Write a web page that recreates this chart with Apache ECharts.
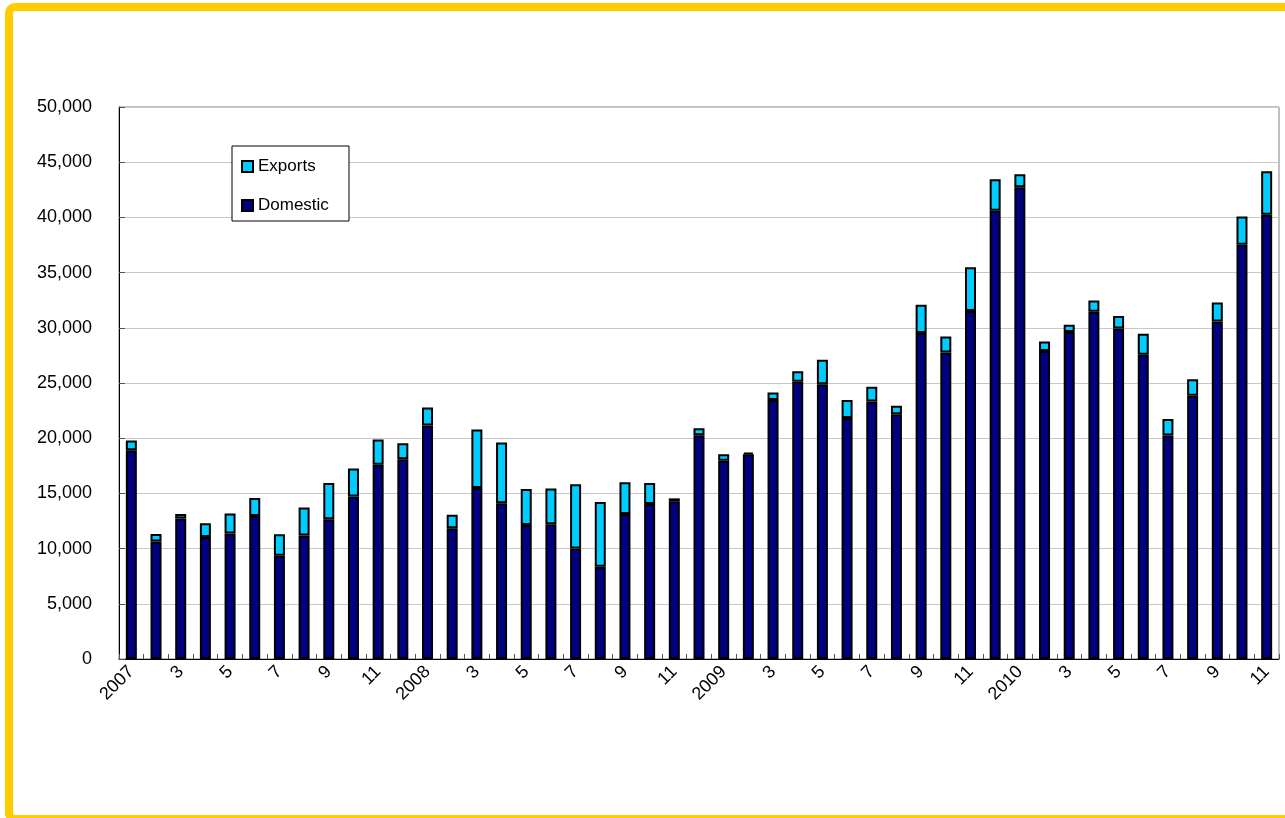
<!DOCTYPE html>
<html>
<head>
<meta charset="utf-8">
<script src="https://cdn.jsdelivr.net/npm/echarts@6/dist/echarts.min.js"></script>
<style>
html,body{margin:0;padding:0;background:#fff;}
#chart{width:1285px;height:818px;}
</style>
</head>
<body>
<div id="chart"></div>
<script>
// Months Jan 2007 - Nov 2010
const categories = [
  '2007','2','3','4','5','6','7','8','9','10','11','12',
  '2008','2','3','4','5','6','7','8','9','10','11','12',
  '2009','2','3','4','5','6','7','8','9','10','11','12',
  '2010','2','3','4','5','6','7','8','9','10','11'
];
const domestic = [
  18900,10650,12720,11050,11370,12960,9360,11190,12650,14730,17600,18090,
  21140,11850,15490,14100,12130,12200,10010,8350,13130,14030,14280,20270,
  17950,18540,23460,25120,24880,21830,23320,22180,29520,27760,31530,40610,
  42720,27890,29630,31460,29940,27550,20240,23840,30560,37530,40230
];
const exportsVals = [
  900,680,410,1250,1800,1630,1940,2530,3290,2530,2290,1450,
  1630,1210,5300,5510,3260,3250,5830,5860,2880,1910,270,620,
  590,170,690,940,2220,1630,1350,760,2570,1450,3950,2840,
  1180,870,650,1010,1140,1900,1490,1490,1730,2560,3950
];
const yTicks = { min: 0, max: 50000, interval: 5000 };

const chart = echarts.init(document.getElementById('chart'));
const font = 'Liberation Sans, Arial, sans-serif';
chart.setOption({
  backgroundColor: '#ffffff',
  animation: false,
  textStyle: { fontFamily: font },
  graphic: [
    { type: 'rect', shape: { x: 9, y: 7, width: 1300, height: 812, r: 6 },
      style: { fill: 'none', stroke: '#FFCC00', lineWidth: 8 }, silent: true, z: 100 },
    { type: 'rect', shape: { x: 232, y: 146, width: 117, height: 75 },
      style: { fill: '#ffffff', stroke: '#000000', lineWidth: 1 }, silent: true, z: 50 }
  ],
  legend: {
    data: ['Exports', 'Domestic'],
    orient: 'vertical',
    left: 241,
    top: 158,
    padding: 0,
    itemGap: 22,
    itemWidth: 11,
    itemHeight: 11,
    icon: 'rect',
    z: 60,
    textStyle: { fontFamily: font, fontSize: 17, color: '#000' }
  },
  grid: {
    left: 119, right: 6, top: 107, bottom: 159,
    show: true, borderColor: '#808080', borderWidth: 1, backgroundColor: 'transparent'
  },
  xAxis: {
    type: 'category',
    data: categories,
    boundaryGap: true,
    axisLine: { lineStyle: { color: '#000', width: 1 } },
    axisTick: { show: true, inside: true, length: 5, interval: 0, lineStyle: { color: '#555' } },
    axisLabel: {
      interval: 1, rotate: 45, margin: 10,
      fontFamily: font, fontSize: 18, color: '#000'
    },
    splitLine: { show: false }
  },
  yAxis: {
    type: 'value',
    min: yTicks.min, max: yTicks.max, interval: yTicks.interval,
    axisLine: { show: true, lineStyle: { color: '#000', width: 1 } },
    axisTick: { show: true, inside: true, length: 6, lineStyle: { color: '#555' } },
    axisLabel: {
      margin: 27, fontFamily: font, fontSize: 18, color: '#000',
      formatter: v => v.toLocaleString('en-US')
    },
    splitLine: { show: true, lineStyle: { color: '#c8c8c8', width: 1 } }
  },
  series: [
    {
      name: 'Domestic', type: 'bar', stack: 'total', data: domestic,
      barWidth: 11,
      itemStyle: { color: '#000080', borderColor: '#000', borderWidth: 2 }
    },
    {
      name: 'Exports', type: 'bar', stack: 'total', data: exportsVals,
      barWidth: 11,
      itemStyle: { color: '#00CCFF', borderColor: '#000', borderWidth: 2 }
    }
  ]
});
</script>
</body>
</html>
